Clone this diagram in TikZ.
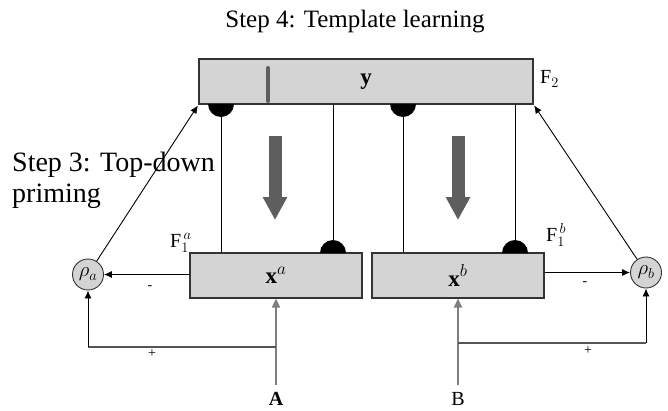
\documentclass[tikz,border=0pt]{standalone}
\usepackage{fontspec}
\setmainfont{Liberation Serif}
\usetikzlibrary{arrows.meta}
\definecolor{boxfill}{HTML}{D4D4D4}
\definecolor{boxline}{HTML}{333333}
\definecolor{flowgrey}{HTML}{5E5E5E}
\definecolor{inputgrey}{HTML}{7E7E7E}
\definecolor{loopgrey}{HTML}{555555}

\begin{document}
\begin{tikzpicture}[x=1pt,y=-1pt,
  layer/.style={draw=boxline, line width=1.1pt, fill=boxfill, minimum width=#1,
    minimum height=45pt, inner sep=0pt, font=\fontsize{23}{24}\selectfont\bfseries},
  gain/.style={circle, draw=boxline, line width=0.9pt, fill=boxfill, minimum size=31pt,
    inner sep=0pt, font=\fontsize{20}{20}\selectfont},
  wire/.style={line width=0.9pt},
  sig/.style={wire, -{Latex[length=8pt,width=7pt]}},
  input/.style={line width=1.8pt, draw=inputgrey, -{Triangle[length=9pt,width=8pt]}},
  flow/.style={draw=flowgrey, line width=13pt, -{Triangle[length=23pt,width=23pt]}},
  steptext/.style={font=\fontsize{25}{31}\selectfont},
  flabel/.style={font=\fontsize{20}{21}\selectfont, inner sep=0pt},
  sign/.style={font=\fontsize{14}{15}\selectfont, inner sep=0pt},
  inlabel/.style={font=\fontsize{20}{21}\selectfont, inner sep=0pt}
]
\useasboundingbox[fill=white] (0,0) rectangle (668,410);

% titles
\node[steptext, anchor=base] (t4) at (355,27) {Step 4: Template learning};
\node[anchor=north west, align=left, inner sep=0pt, font=\fontsize{28}{31}\selectfont]
  (t3) at (12,152) {Step 3: Top-down\\priming};

% layers
\node[layer=334pt] (ybox) at (366,81.5) {y};
\node[layer=172pt] (xa) at (276,275.5) {x$^{\scriptstyle a}$};
\node[layer=172pt] (xb) at (458,275.5) {x$^{\scriptstyle b}$};

% vigilance units
\node[gain] (rhoa) at (88,274.5) {$\rho_{\scriptstyle a}$};
\node[gain] (rhob) at (646,272.5) {$\rho_{\scriptstyle b}$};

% layer labels
\node[flabel, anchor=west] (f2) at (540,79) {F$_{2}$};
\node[flabel, anchor=west] (f1a) at (170,243) {F$^{\,\scriptstyle a}_{1}$};
\node[flabel, anchor=west] (f1b) at (546,235) {F$^{\,\scriptstyle b}_{1}$};

% marker inside F2
\draw[flowgrey, line width=4pt, line cap=round] (268,68) -- (268,101);

% synapse positions
\coordinate (s1) at (221,104);
\coordinate (s2) at (333,253);
\coordinate (s3) at (403,104);
\coordinate (s4) at (515,253);

% adaptive pathways between F2 and F1
\draw[wire] (s1) -- (s1 |- xa.north);
\draw[wire] (s2) -- (s2 |- ybox.south);
\draw[wire] (s3) -- (s3 |- xb.north);
\draw[wire] (s4) -- (s4 |- ybox.south);
\fill (s1) ++(-13pt,0) arc[start angle=180, end angle=360, radius=13pt] -- cycle;
\fill (s3) ++(-13pt,0) arc[start angle=180, end angle=360, radius=13pt] -- cycle;
\fill (s2) ++(-13pt,0) arc[start angle=180, end angle=0, radius=13pt] -- cycle;
\fill (s4) ++(-13pt,0) arc[start angle=180, end angle=0, radius=13pt] -- cycle;

% top-down expectation arrows
\coordinate (da) at (275,136);
\coordinate (db) at (458,136);
\draw[flow] (da) -- (275,220);
\draw[flow] (db) -- (458,220);

% priming from vigilance units to F2
\draw[sig, shorten >=1pt] (rhoa) -- (ybox.south west);
\draw[sig, shorten >=1pt] (rhob) -- (ybox.south east);

% inhibitory signals from F1
\draw[sig] (xa.west |- rhoa.east) -- (rhoa.east);
\draw[sig] (xb.east |- rhob.west) -- (rhob.west);
\node[sign] (ma) at (150,288) {-};
\node[sign] (mb) at (585,284) {-};

% inputs
\coordinate (ta) at (276,385);
\coordinate (tb) at (458,385);
\coordinate (ja) at (276,347);
\coordinate (jb) at (458,343);
\draw[input] (ta) -- (xa.south);
\draw[input] (tb) -- (xb.south);
\draw[loopgrey, line width=1.2pt] (ja) -- (rhoa |- ja);
\draw[sig] (rhoa |- ja) -- (rhoa.south);
\draw[loopgrey, line width=1.2pt] (jb) -- (rhob |- jb);
\draw[sig] (rhob |- jb) -- (rhob.south);
\node[sign] (pa) at (152,354) {+};
\node[sign] (pb) at (588,351) {+};

\node[inlabel, anchor=base, font=\fontsize{20}{21}\selectfont\bfseries] (la) at (276,405) {A};
\node[inlabel, anchor=base] (lb) at (458,405) {B};
\end{tikzpicture}
\end{document}
